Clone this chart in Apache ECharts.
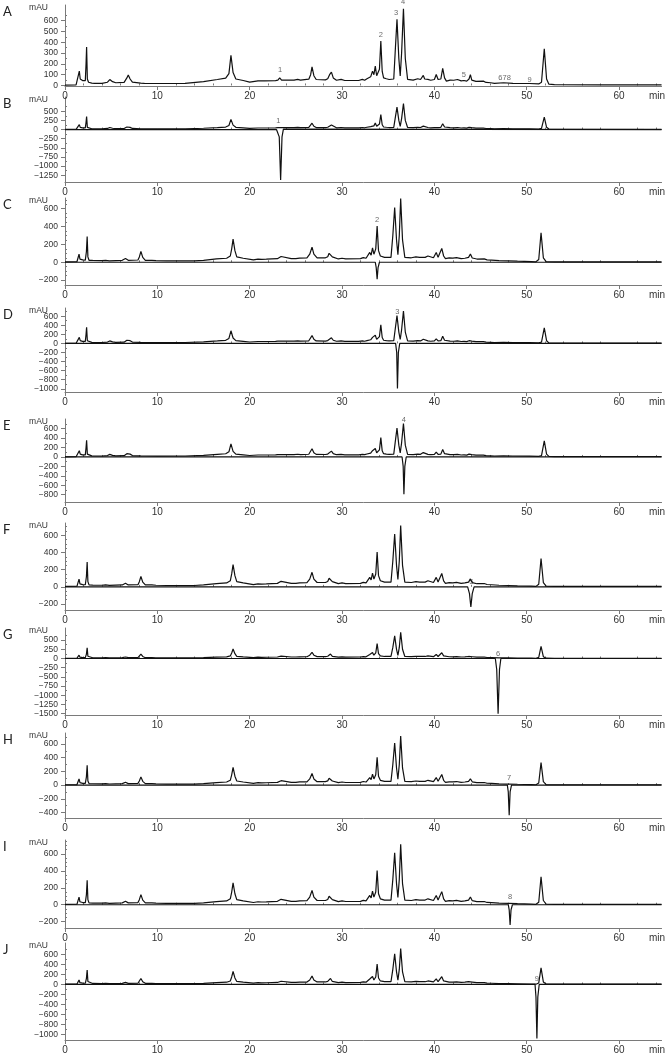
<!DOCTYPE html>
<html lang="en">
<head>
<meta charset="UTF-8">
<title>HPLC chromatograms</title>
<style>
  html, body { margin: 0; padding: 0; background: #fff; }
  #chart { width: 668px; height: 1056px; }
</style>
</head>
<body>
<div id="chart"></div>
<script src="https://cdn.jsdelivr.net/npm/echarts@6/dist/echarts.min.js"></script>
<script>
// sample chromatogram, run 1 (panels A, B, D, E) - [min, mAU]
let run1 = [
  [0,3],[1.2,5],[1.4,20],[1.55,133],[1.65,60],[1.75,50],[1.9,45],[2.0,55],[2.1,40],[2.2,45],
  [2.28,200],[2.34,355],[2.42,60],[2.55,30],[2.9,22],[3.0,28],[3.2,20],[4.0,20],[4.6,30],[4.85,55],
  [5.0,65],[5.15,35],[5.5,25],[6.4,28],[6.7,70],[6.85,96],[7.05,60],[7.3,30],[8.2,22],[8.4,28],
  [8.6,20],[10,18],[13,20],[15,35],[16.5,55],[17.4,68],[17.75,110],[17.97,278],[18.2,120],[18.5,60],
  [19.3,46],[20,31],[20.9,42],[21.05,48],[21.2,42],[21.35,48],[21.6,42],[22.8,45],[23.05,50],[23.25,71],
  [23.45,50],[24.3,50],[24.5,57],[24.8,50],[25.2,57],[25.5,50],[26.4,58],[26.6,100],[26.75,173],[26.95,90],
  [27.2,55],[28.2,52],[28.45,62],[28.65,100],[28.85,124],[29.05,70],[29.4,48],[29.9,56],[30.3,46],[31.8,46],
  [32.2,56],[32.45,48],[32.7,62],[32.9,55],[33.1,80],[33.3,133],[33.45,100],[33.6,179],[33.75,90],[33.9,72],
  [34.05,150],[34.2,411],[34.35,130],[34.5,70],[34.8,62],[35.1,55],[35.6,60],[35.75,300],[35.95,612],[36.15,250],
  [36.3,87],[36.45,300],[36.65,711],[36.85,250],[37.1,56],[37.7,50],[38.2,62],[38.5,55],[38.65,70],[38.8,93],
  [38.95,60],[39.3,56],[39.6,48],[40.0,55],[40.2,102],[40.4,55],[40.7,60],[40.9,158],[41.1,70],[41.3,40],
  [41.7,50],[41.9,62],[42.1,48],[42.3,62],[42.5,55],[42.6,62],[42.9,42],[43.2,46],[43.5,40],[43.75,60],
  [43.9,99],[44.05,50],[44.5,38],[45.3,40],[45.6,28],[46.1,25],[46.5,20],[47.5,25],[48.5,20],[50.3,18],
  [51.3,14],[51.6,30],[51.9,340],[52.15,60],[52.4,12],[53,8],[58,6],[64.6,6]
]

// sample chromatogram, run 2 (panels C, F, G, H, I, J)
let run2 = [
  [0,5],[1.3,8],[1.42,30],[1.52,90],[1.62,35],[1.72,30],[1.82,37],[1.92,26],[2.2,24],[2.32,120],
  [2.4,289],[2.48,60],[2.6,22],[3.0,20],[4.0,18],[4.4,22],[4.8,16],[6.2,22],[6.55,41],[6.85,22],
  [7.9,25],[8.05,60],[8.22,120],[8.42,55],[8.7,22],[9.4,22],[9.6,30],[9.85,18],[11,15],[14,15],
  [15,22],[16.4,37],[17.5,45],[17.9,70],[18.05,150],[18.2,259],[18.4,130],[18.6,60],[19.3,45],[20.4,26],
  [20.9,35],[21.1,37],[21.3,32],[21.5,37],[21.8,34],[23.0,40],[23.2,48],[23.4,64],[23.6,48],[24.5,40],
  [24.7,46],[25.0,40],[25.4,46],[26.2,48],[26.5,90],[26.75,169],[26.95,90],[27.3,50],[28.2,50],[28.45,62],
  [28.6,100],[28.75,120],[28.95,60],[29.6,37],[30.0,45],[30.4,38],[32.0,40],[32.3,52],[32.6,45],[32.8,60],
  [33.0,110],[33.15,80],[33.3,160],[33.45,90],[33.55,70],[33.65,150],[33.8,405],[33.95,130],[34.15,70],[34.6,55],
  [35.3,55],[35.5,300],[35.7,614],[35.9,250],[36.05,85],[36.2,300],[36.35,715],[36.55,250],[36.8,55],[37.5,50],
  [38.0,60],[38.2,72],[38.4,55],[39.0,55],[39.3,70],[39.5,60],[39.9,50],[40.2,110],[40.4,55],[40.6,60],
  [40.8,155],[41.0,70],[41.2,40],[41.6,48],[41.8,60],[42.0,46],[42.2,58],[42.4,52],[42.6,58],[42.9,40],
  [43.3,45],[43.7,55],[43.9,92],[44.1,48],[44.6,36],[45.4,38],[45.7,27],[46.2,24],[47.0,18],[48.0,15],
  [49.0,12],[50.5,8],[51.0,5],[51.3,30],[51.55,330],[51.8,50],[52.1,8],[53,5],[64.6,5]
]

// inverted reference standards
let stdB = [[0,0],[22.9,0],[23.05,15],[23.2,-200],[23.35,-1380],[23.5,-200],[23.65,10],[23.8,0],[64.6,0]]
let stdC = [[0,0],[33.6,0],[33.7,-60],[33.8,-190],[33.9,-60],[34.05,0],[64.6,0]]
let stdD = [[0,0],[35.8,0],[35.92,-200],[36.0,-990],[36.1,-200],[36.25,0],[64.6,0]]
let stdE = [[0,0],[36.5,0],[36.62,-200],[36.7,-790],[36.8,-200],[36.95,0],[64.6,0]]
let stdF = [[0,0],[43.6,0],[43.8,-80],[43.95,-235],[44.1,-80],[44.3,0],[64.6,0]]
let stdG = [[0,0],[46.6,0],[46.75,-300],[46.9,-1500],[47.05,-300],[47.2,0],[64.6,0]]
let stdH = [[0,0],[47.9,0],[48.0,-100],[48.1,-440],[48.2,-100],[48.35,0],[64.6,0]]
let stdI = [[0,0],[48.0,0],[48.1,-60],[48.2,-240],[48.3,-60],[48.45,0],[64.6,0]]
let stdJ = [[0,0],[50.9,0],[51.0,-250],[51.1,-1080],[51.2,-250],[51.35,0],[64.6,0]]

let panelLetters = ['A', 'B', 'C', 'D', 'E', 'F', 'G', 'H', 'I', 'J']
let panelSample = [run1, run1, run2, run1, run1, run2, run2, run2, run2, run2]
let panelStd = [null, stdB, stdC, stdD, stdE, stdF, stdG, stdH, stdI, stdJ]

// y tick labels per panel
let yTicks = [
  [0, 100, 200, 300, 400, 500, 600],
  [-1250, -1000, -750, -500, -250, 0, 250, 500],
  [-200, 0, 200, 400, 600],
  [-1000, -800, -600, -400, -200, 0, 200, 400, 600],
  [-800, -600, -400, -200, 0, 200, 400, 600],
  [-200, 0, 200, 400, 600],
  [-1500, -1250, -1000, -750, -500, -250, 0, 250, 500],
  [-400, -200, 0, 200, 400, 600],
  [-200, 0, 200, 400, 600],
  [-1000, -800, -600, -400, -200, 0, 200, 400, 600]
]
let xTicks = [0, 10, 20, 30, 40, 50, 60]

// peak numbers [min, mAU, text]
let peakLabels = [
  [[23.3, 140, '1'], [34.2, 470, '2'], [35.85, 670, '3'], [36.6, 770, '4'], [43.2, 95, '5'], [47.6, 72, '678'], [50.3, 55, '9']],
  [[23.1, 230, '1']],
  [[33.8, 470, '2']],
  [[36.0, 690, '3']],
  [[36.7, 790, '4']],
  [[44.0, 60, '5']],
  [[46.9, 120, '6']],
  [[48.1, 100, '7']],
  [[48.2, 90, '8']],
  [[51.1, 110, '9']]
]

// layout of the ten stacked plots (px) and value ranges
let layout = [
  { top: 5, bottom: 86, min: -5, max: 745, minor: 2 },
  { top: 97, bottom: 182, min: -1435, max: 890, minor: 2 },
  { top: 198, bottom: 285, min: -255, max: 720, minor: 4 },
  { top: 308, bottom: 392, min: -1070, max: 780, minor: 2 },
  { top: 419, bottom: 502, min: -955, max: 805, minor: 2 },
  { top: 523, bottom: 610, min: -270, max: 743, minor: 4 },
  { top: 628, bottom: 715, min: -1536, max: 829, minor: 2 },
  { top: 733, bottom: 818, min: -480, max: 760, minor: 2 },
  { top: 840, bottom: 928, min: -275, max: 765, minor: 4 },
  { top: 943, bottom: 1040, min: -1109, max: 828, minor: 2 }
]

let X_MAX = 64.6
let axisColor = '#7a7a7a'
let textColor = '#333'
let traceColor = '#111'
let fmt = v => v < 0 ? '\u2212' + Math.abs(v) : String(v)

let chart = echarts.init(document.getElementById('chart'))
let grids = [], xAxes = [], yAxes = [], series = [], graphics = []

// minor x ticks every 2 min
let xMinor = []
for (let t = 2; t < X_MAX; t += 2) if (t % 10 !== 0) xMinor.push(t)

panelLetters.forEach((letter, i) => {
  let L = layout[i]
  grids.push({ left: 65, width: 597.5, top: L.top, height: L.bottom - L.top })

  xAxes.push({
    gridIndex: i, type: 'value', min: 0, max: X_MAX,
    axisLine: { onZero: false, lineStyle: { color: axisColor, width: 1 } },
    axisTick: { customValues: xTicks, length: 4, lineStyle: { color: axisColor } },
    axisLabel: {
      customValues: xTicks.concat([64.1]), margin: 5,
      formatter: v => v > 61 ? 'min' : String(v),
      fontFamily: 'Liberation Sans', fontSize: 10, color: textColor
    },
    splitLine: { show: false }
  })
  xAxes.push({
    gridIndex: i, type: 'value', min: 0, max: X_MAX,
    axisLine: { show: false },
    axisTick: { customValues: xMinor, length: 2, lineStyle: { color: axisColor } },
    axisLabel: { show: false }, splitLine: { show: false }
  })

  let ticks = yTicks[i]
  let step = ticks[1] - ticks[0]
  let yMinor = []
  for (let k = 0; k < ticks.length - 1; k++) {
    for (let m = 1; m < L.minor; m++) yMinor.push(ticks[k] + step * m / L.minor)
  }
  let last = ticks[ticks.length - 1]
  for (let m = 1; last + step * m / L.minor < L.max; m++) {
    if (m % L.minor !== 0) yMinor.push(last + step * m / L.minor)
  }

  yAxes.push({
    gridIndex: i, type: 'value', min: L.min, max: L.max,
    axisLine: { show: true, onZero: false, lineStyle: { color: axisColor, width: 1 } },
    axisTick: { show: true, customValues: ticks, length: 4, lineStyle: { color: axisColor } },
    axisLabel: {
      customValues: ticks, margin: 7, formatter: fmt,
      fontFamily: 'Liberation Sans', fontSize: 8.5, color: textColor
    },
    splitLine: { show: false }
  })
  yAxes.push({
    gridIndex: i, type: 'value', min: L.min, max: L.max,
    axisLine: { show: false },
    axisTick: { show: true, customValues: yMinor, length: 2, lineStyle: { color: axisColor } },
    axisLabel: { show: false }, splitLine: { show: false }
  })

  series.push({
    type: 'line', xAxisIndex: 2 * i, yAxisIndex: 2 * i,
    data: panelSample[i], showSymbol: false, silent: true,
    lineStyle: { color: traceColor, width: 1.2 }
  })
  if (panelStd[i]) {
    series.push({
      type: 'line', xAxisIndex: 2 * i, yAxisIndex: 2 * i,
      data: panelStd[i], showSymbol: false, silent: true,
      lineStyle: { color: traceColor, width: 1.2 }
    })
  }
  series.push({
    type: 'scatter', xAxisIndex: 2 * i, yAxisIndex: 2 * i,
    symbolSize: 0, clip: false, silent: true,
    data: peakLabels[i].map(d => ({ value: [d[0], d[1]], name: d[2] })),
    label: {
      show: true, position: 'inside', formatter: p => p.name,
      fontFamily: 'Liberation Sans', fontSize: 7.5, color: '#444'
    }
  })

  graphics.push({
    type: 'text', left: 3, top: L.top,
    style: { text: letter, font: '13px Lato', fill: '#222' }
  })
  graphics.push({
    type: 'text', right: 668 - 48, top: L.top - 2,
    style: { text: 'mAU', font: '8.5px "Liberation Sans"', fill: textColor, textAlign: 'right' }
  })
})

chart.setOption({
  animation: false,
  backgroundColor: '#fff',
  grid: grids,
  xAxis: xAxes,
  yAxis: yAxes,
  series: series,
  graphic: graphics
})
</script>
</body>
</html>
